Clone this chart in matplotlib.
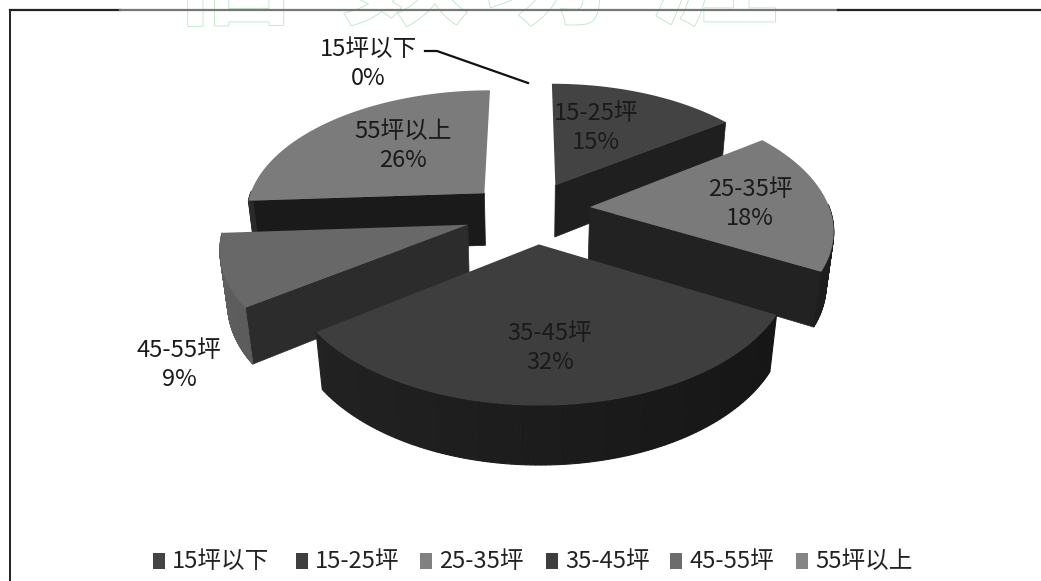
import numpy as np
import matplotlib
matplotlib.use("Agg")
import matplotlib.pyplot as plt
from matplotlib.patches import Polygon, Rectangle
from matplotlib.colors import to_rgb
import matplotlib.patheffects as pe

plt.rcParams['font.family'] = ['Noto Sans CJK SC', 'DejaVu Sans']

CATEGORIES = ["15坪以下", "15-25坪", "25-35坪", "35-45坪", "45-55坪", "55坪以上"]
SHARES = [0, 15, 18, 32, 9, 26]

TOP_COLORS = ["#3d3d3d", "#434343", "#7a7a7a", "#3e3e3e", "#686868", "#7b7b7b"]
WALL_COLORS = ["#1f1f1f", "#262626", "#262626", "#1c1c1c", "#4c4c4c", "#222222"]
CUT_COLORS = ["#1f1f1f", "#1f1f1f", "#222222", "#222222", "#2c2c2c", "#1a1a1a"]
LEGEND_COLORS = ["#444444", "#3f3f3f", "#808080", "#3e3e3e", "#6c6c6c", "#858585"]

# slice explosion distance in pie radii, plus a small pixel nudge per slice
EXPLODE = [0.0, 0.25, 0.25, 0.25, 0.25, 0.25]
NUDGE_X = [0, -4, -3, 2, -8, -6]
NUDGE_Y = [0, 0, -3, 0, 2, 2]
# back slices first so nearer ones paint over them
DRAW_ORDER = [1, 5, 2, 4, 3]

# label centres, pixel coordinates
LABEL_POS = {0: (368, 64), 1: (596, 128), 2: (750, 204), 3: (550, 348), 4: (179, 365), 5: (403, 146)}
LEGEND_X = [153, 296, 420, 546, 670, 796]

HEADING_CHARS = ["信", "数", "坊", "涯"]
HEADING_X = [232, 405, 548, 715]

CX, CY = 533, 212
RADIUS = 240
SIN_E = 0.52
COS_E = np.sqrt(1 - SIN_E**2)
CAM_DIST = 5.5
HEIGHT = 0.265


def project(u, v, z, off=(0, 0)):
    # perspective view of a disc tilted towards the camera
    depth = CAM_DIST + v * COS_E - z * SIN_E
    s = CAM_DIST / depth
    x = CX + RADIUS * u * s + off[0]
    y = CY - RADIUS * (v * SIN_E + z * COS_E) * s + off[1]
    return x, y


def shade(color, factor):
    return tuple(np.clip(np.array(to_rgb(color)) * factor, 0, 1))


fig = plt.figure(figsize=(10.41, 5.81), dpi=100)
ax = fig.add_axes([0, 0, 1, 1])
ax.set_xlim(0, 1041)
ax.set_ylim(581, 0)
ax.axis("off")

# chart frame, the top rule fades in the middle
ax.plot([10, 10], [10, 581], color="#222222", lw=1.4, zorder=2)
ax.plot([10, 120], [10, 10], color="#222222", lw=1.6, zorder=2)
ax.plot([120, 838], [10, 10], color="#777777", lw=1.6, zorder=2)
ax.plot([838, 1041], [10, 10], color="#222222", lw=1.6, zorder=2)

# faint outlined heading, cut off by the page edge
for ch, x in zip(HEADING_CHARS, HEADING_X):
    t = ax.text(x, 14, ch, fontsize=92, fontweight="bold", ha="center", va="baseline",
                color="white", zorder=1)
    t.set_path_effects([pe.withStroke(linewidth=1.6, foreground="#c4e8cd"), pe.Normal()])

total = float(sum(SHARES))
starts = np.cumsum([0] + SHARES[:-1]) / total * 2 * np.pi
ends = np.cumsum(SHARES) / total * 2 * np.pi

for order, i in enumerate(DRAW_ORDER):
    zo = 3 + order * 0.1
    off = (NUDGE_X[i], NUDGE_Y[i])
    a0, a1 = starts[i], ends[i]
    mid = (a0 + a1) / 2
    du, dv = EXPLODE[i] * np.sin(mid), EXPLODE[i] * np.cos(mid)
    th = np.linspace(a0, a1, 120)
    u, v = du + np.sin(th), dv + np.cos(th)

    # cut faces running from the apex to the arc ends, only those facing the viewer
    for ang, visible in ((a0, np.sin(a0) < -1e-6), (a1, np.sin(a1) > 1e-6)):
        if not visible:
            continue
        ue, ve = du + np.sin(ang), dv + np.cos(ang)
        pts = [project(du, dv, 0, off), project(ue, ve, 0, off),
               project(ue, ve, -HEIGHT, off), project(du, dv, -HEIGHT, off)]
        ax.add_patch(Polygon(pts, fc=CUT_COLORS[i], ec=CUT_COLORS[i], lw=0.5, zorder=zo))

    # outer wall as narrow strips, darker towards the right
    for j in range(len(th) - 1):
        tm = (th[j] + th[j + 1]) / 2
        if np.cos(tm) > 0.02:
            continue
        c = shade(WALL_COLORS[i], 1 - 0.25 * np.sin(tm))
        pts = [project(u[j], v[j], 0, off), project(u[j + 1], v[j + 1], 0, off),
               project(u[j + 1], v[j + 1], -HEIGHT, off), project(u[j], v[j], -HEIGHT, off)]
        ax.add_patch(Polygon(pts, fc=c, ec=c, lw=0.8, zorder=zo))

    top = [project(du, dv, 0, off)] + [project(a, b, 0, off) for a, b in zip(u, v)]
    ax.add_patch(Polygon(top, fc=TOP_COLORS[i], ec="none", zorder=zo + 0.05))

# leader line for the empty slice
ax.plot([425, 437, 528], [51, 51, 83], color="#111111", lw=1.6, zorder=6)

for i, (x, y) in LABEL_POS.items():
    ax.text(x, y, f"{CATEGORIES[i]}\n{SHARES[i]}%", fontsize=17, color="#1a1a1a",
            ha="center", va="center", linespacing=1.3, zorder=7)

# legend row along the bottom
for name, color, x in zip(CATEGORIES, LEGEND_COLORS, LEGEND_X):
    ax.add_patch(Rectangle((x, 553), 12, 16, fc=color, ec="none", zorder=6))
    ax.text(x + 19, 561, name, fontsize=17, color="#222222", ha="left", va="center", zorder=7)

fig.savefig("out.png", dpi=100, facecolor="white")
